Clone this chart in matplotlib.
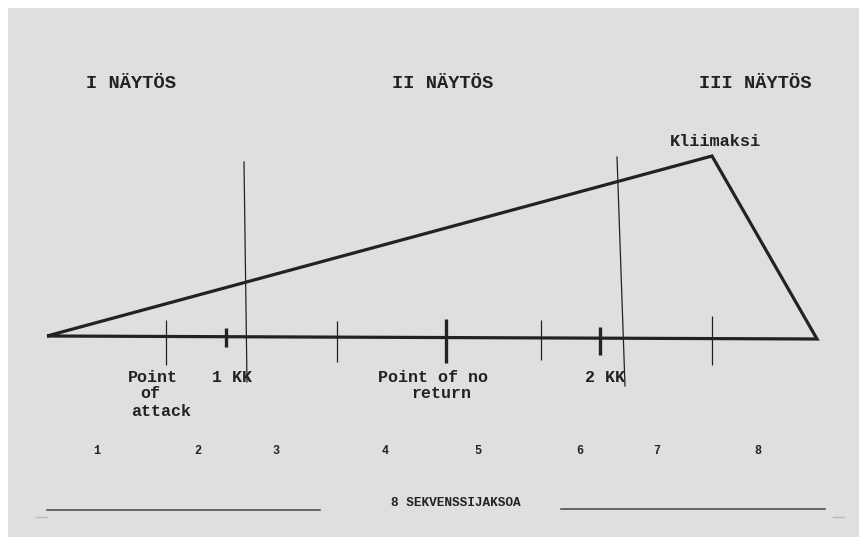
import matplotlib
matplotlib.use("Agg")
import matplotlib.pyplot as plt
from matplotlib.patches import Rectangle

# ---- data ----
act_labels = ["I NÄYTÖS", "II NÄYTÖS", "III NÄYTÖS"]
act_x = [131, 443, 755]

# triangle (start, climax, end)
tri_x = [47, 712, 817]
tri_y = [336, 156, 339]
climax_label = "Kliimaksi"

# ticks on the base line
tick_x = [166, 226, 337, 446, 541, 600, 712]
tick_top = [320, 328, 321, 319, 320, 327, 316]
tick_bot = [365, 347, 362, 363, 360, 355, 365]
tick_heavy = [False, True, False, True, False, True, False]

# plot-point lines (KK)
kk_x0 = [244, 617]
kk_y0 = [162, 157]
kk_x1 = [247, 625]
kk_y1 = [382, 386]

# plot-point labels
pp_labels = ["Point", "of", "attack", "1 KK", "Point of no", "return", "2 KK"]
pp_x = [153, 150, 161, 232, 433, 441, 605]
pp_y = [377, 394, 411, 377, 377, 394, 377]

# sequences
seq_labels = ["1", "2", "3", "4", "5", "6", "7", "8"]
seq_x = [97, 198, 276, 385, 478, 580, 657, 758]
seq_y = 451
seq_title = "8 SEKVENSSIJAKSOA"

BG = "#e0dede"
INK = "#222222"
FONT = "Liberation Mono"

fig = plt.figure(figsize=(8.59, 5.37), dpi=100)
fig.patch.set_facecolor("white")
ax = fig.add_axes([0, 0, 1, 1])
ax.set_xlim(0, 859)
ax.set_ylim(537, 0)
ax.axis("off")
ax.add_patch(Rectangle((8, 8), 851, 529, facecolor=BG, edgecolor="none", zorder=0))

# act headings
for lab, x in zip(act_labels, act_x):
    ax.text(x, 84, lab, ha="center", va="center", family=FONT, weight="bold",
            fontsize=13.5, color=INK)

# triangle
ax.plot(tri_x + [tri_x[0]], tri_y + [tri_y[0]], color=INK, lw=2.3,
        solid_joinstyle="miter", solid_capstyle="butt", zorder=3)
ax.text(tri_x[1] + 3, 141, climax_label, ha="center", va="center", family=FONT,
        weight="bold", fontsize=12.2, color=INK)

# ticks
for x, t, b, h in zip(tick_x, tick_top, tick_bot, tick_heavy):
    ax.plot([x, x], [t, b], color=INK, lw=2.4 if h else 0.9, solid_capstyle="butt", zorder=3)

# KK lines
for a, b, c, d in zip(kk_x0, kk_y0, kk_x1, kk_y1):
    ax.plot([a, c], [b, d], color=INK, lw=0.9, zorder=3)

# plot-point labels
for lab, x, y in zip(pp_labels, pp_x, pp_y):
    ax.text(x, y, lab, ha="center", va="center", family=FONT, weight="bold",
            fontsize=12, color=INK)

# sequence numbers
for lab, x in zip(seq_labels, seq_x):
    ax.text(x, seq_y, lab, ha="center", va="center", family=FONT, weight="bold",
            fontsize=8.5, color=INK)

# bottom bracket
ax.plot([47, 320], [510, 510], color="#444444", lw=1.1)
ax.plot([561, 825], [509, 509], color="#444444", lw=1.1)
ax.plot([36, 47], [517, 517], color="#bbbbbb", lw=1.0)
ax.plot([833, 844], [517, 517], color="#bbbbbb", lw=1.0)
ax.text(456, 503, seq_title, ha="center", va="center", family=FONT, weight="bold",
        fontsize=9.2, color=INK)

fig.savefig("out.png", dpi=100, facecolor=fig.get_facecolor())
